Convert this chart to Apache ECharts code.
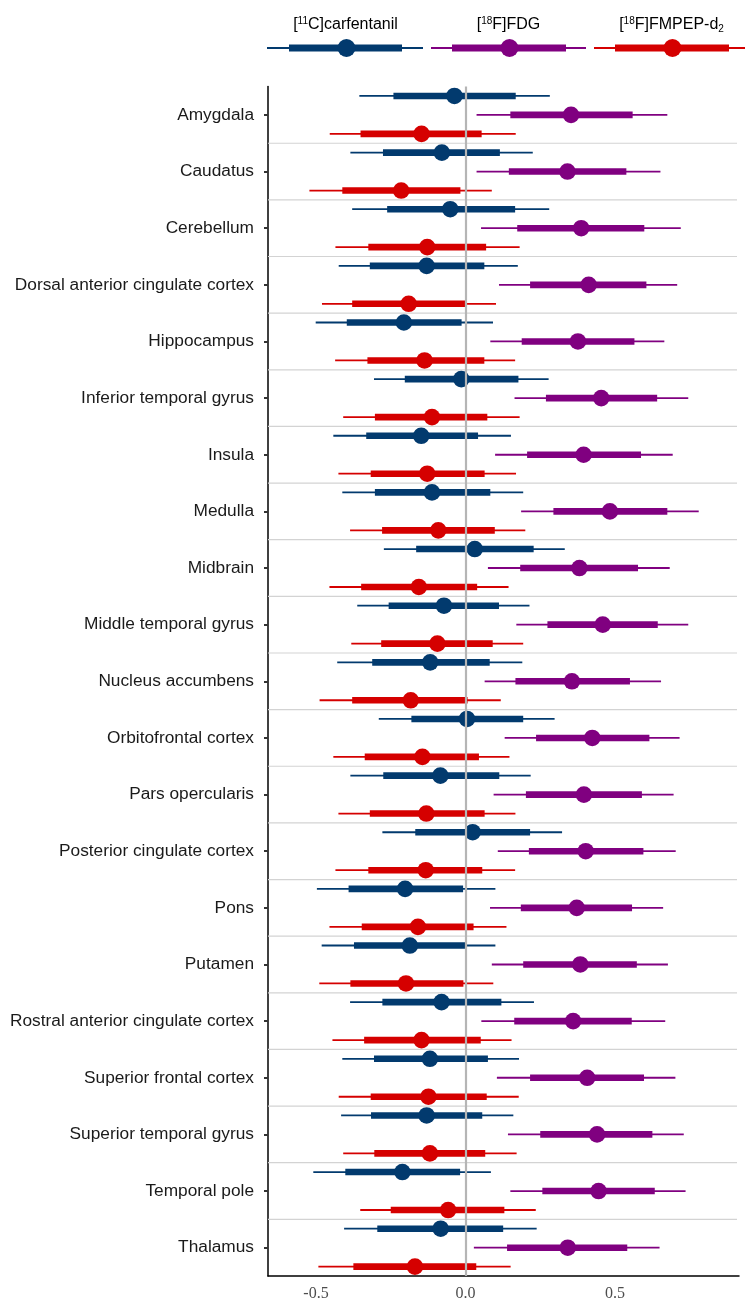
<!DOCTYPE html>
<html>
<head>
<meta charset="utf-8">
<script src="https://cdn.jsdelivr.net/npm/echarts@6/dist/echarts.min.js"></script>
<style>
html,body{margin:0;padding:0;background:#fff;}
#chart{width:745px;height:1302px;}
</style>
</head>
<body>
<div id="chart"></div>
<script>
// ---- data ----
const categories = ['Amygdala','Caudatus','Cerebellum','Dorsal anterior cingulate cortex','Hippocampus','Inferior temporal gyrus','Insula','Medulla','Midbrain','Middle temporal gyrus','Nucleus accumbens','Orbitofrontal cortex','Pars opercularis','Posterior cingulate cortex','Pons','Putamen','Rostral anterior cingulate cortex','Superior frontal cortex','Superior temporal gyrus','Temporal pole','Thalamus'];
const tickLabels = [-0.5, 0, 0.5];
// rows: [lower 95%, lower 50%, estimate, upper 50%, upper 95%]
const carfentanil = [
 [-0.355,-0.241,-0.037,0.168,0.282],
 [-0.385,-0.276,-0.079,0.115,0.225],
 [-0.379,-0.262,-0.051,0.166,0.280],
 [-0.424,-0.320,-0.130,0.063,0.175],
 [-0.501,-0.397,-0.206,-0.013,0.092],
 [-0.306,-0.203,-0.014,0.177,0.278],
 [-0.442,-0.332,-0.148,0.042,0.152],
 [-0.412,-0.303,-0.112,0.083,0.193],
 [-0.273,-0.165,0.031,0.228,0.332],
 [-0.362,-0.257,-0.072,0.112,0.214],
 [-0.429,-0.312,-0.118,0.081,0.190],
 [-0.290,-0.181,0.005,0.193,0.298],
 [-0.385,-0.275,-0.084,0.113,0.218],
 [-0.278,-0.168,0.024,0.216,0.323],
 [-0.497,-0.391,-0.202,-0.008,0.100],
 [-0.481,-0.373,-0.186,0.002,0.100],
 [-0.386,-0.278,-0.080,0.120,0.229],
 [-0.412,-0.306,-0.119,0.075,0.179],
 [-0.416,-0.316,-0.130,0.056,0.160],
 [-0.509,-0.402,-0.211,-0.018,0.085],
 [-0.406,-0.295,-0.083,0.126,0.238]
];
const fdg = [
 [0.037,0.150,0.353,0.559,0.675],
 [0.037,0.145,0.341,0.538,0.652],
 [0.052,0.173,0.387,0.598,0.720],
 [0.112,0.216,0.412,0.605,0.708],
 [0.083,0.188,0.376,0.565,0.665],
 [0.164,0.269,0.454,0.641,0.745],
 [0.099,0.206,0.395,0.587,0.693],
 [0.186,0.294,0.483,0.675,0.780],
 [0.075,0.183,0.381,0.577,0.683],
 [0.170,0.274,0.459,0.643,0.745],
 [0.064,0.167,0.356,0.550,0.654],
 [0.131,0.236,0.424,0.615,0.716],
 [0.094,0.202,0.396,0.590,0.696],
 [0.108,0.212,0.402,0.595,0.703],
 [0.082,0.185,0.372,0.557,0.661],
 [0.088,0.193,0.384,0.573,0.677],
 [0.053,0.163,0.360,0.556,0.668],
 [0.105,0.216,0.407,0.597,0.702],
 [0.142,0.250,0.440,0.625,0.730],
 [0.150,0.257,0.445,0.633,0.736],
 [0.028,0.139,0.342,0.541,0.649]
];
const fmpep = [
 [-0.454,-0.351,-0.147,0.054,0.168],
 [-0.522,-0.412,-0.215,-0.017,0.088],
 [-0.435,-0.325,-0.128,0.069,0.181],
 [-0.480,-0.379,-0.190,0.001,0.102],
 [-0.436,-0.328,-0.137,0.063,0.166],
 [-0.409,-0.303,-0.112,0.073,0.181],
 [-0.425,-0.317,-0.128,0.064,0.169],
 [-0.386,-0.279,-0.091,0.098,0.200],
 [-0.455,-0.349,-0.156,0.039,0.144],
 [-0.382,-0.282,-0.094,0.091,0.193],
 [-0.488,-0.379,-0.183,0.007,0.118],
 [-0.442,-0.337,-0.144,0.045,0.147],
 [-0.425,-0.320,-0.131,0.064,0.167],
 [-0.435,-0.325,-0.133,0.056,0.166],
 [-0.455,-0.347,-0.159,0.027,0.137],
 [-0.489,-0.385,-0.199,-0.007,0.093],
 [-0.445,-0.339,-0.147,0.051,0.154],
 [-0.424,-0.317,-0.124,0.071,0.178],
 [-0.409,-0.305,-0.119,0.066,0.171],
 [-0.352,-0.250,-0.058,0.130,0.235],
 [-0.492,-0.375,-0.169,0.036,0.151]
];

// ---- styles ----
const BLUE = '#023a6e', PURPLE = '#800080', RED = '#d50000';

function toData(rows){ return rows.map((r,i)=>[i].concat(r)); }

function makeRender(color, offsetFrac){
  return function(params, api){
    const cat = api.value(0);
    const band = api.size([0,1])[1];
    const yc = api.coord([0, cat])[1] + band*offsetFrac;
    const X = v => api.coord([v, cat])[0];
    const lo95 = X(api.value(1)), lo50 = X(api.value(2)), pt = X(api.value(3)),
          hi50 = X(api.value(4)), hi95 = X(api.value(5));
    return {type:'group', children:[
      {type:'line', shape:{x1:lo95,y1:yc,x2:hi95,y2:yc}, style:{stroke:color,lineWidth:1.8}},
      {type:'rect', shape:{x:lo50,y:yc-3.3,width:hi50-lo50,height:6.6}, style:{fill:color}},
      {type:'circle', shape:{cx:pt,cy:yc,r:8.3}, style:{fill:color}}
    ]};
  };
}

function sepRender(params, api){
  const cat = api.value(0);
  const band = api.size([0,1])[1];
  const y = api.coord([0, cat])[1] + band/2;
  const cs = params.coordSys;
  return {type:'line', shape:{x1:cs.x, y1:y, x2:cs.x+cs.width-2, y2:y},
          style:{stroke:'#d3d3d3', lineWidth:1.2}};
}

const chart = echarts.init(document.getElementById('chart'), null, {renderer:'canvas'});

function legendItem(cx, x1, x2, t1, t2, color, rich){
  return {type:'group', children:[
    {type:'text', x:cx, y:34, style:{text:rich, fill:'#000', fontSize:16, fontFamily:'Liberation Sans',
      align:'center', verticalAlign:'bottom', lineHeight:18,
      rich:{sup:{fontSize:10, lineHeight:18, verticalAlign:'top', fill:'#000', fontFamily:'Liberation Sans', padding:[0,0,0,0]},
            sub:{fontSize:10, lineHeight:12, verticalAlign:'bottom', fill:'#000', fontFamily:'Liberation Sans'}}}},
    {type:'line', shape:{x1:x1,y1:48,x2:x2,y2:48}, style:{stroke:color,lineWidth:1.8}},
    {type:'rect', shape:{x:t1,y:44.5,width:t2-t1,height:7}, style:{fill:color}},
    {type:'circle', shape:{cx:cx+1,cy:48,r:9}, style:{fill:color}}
  ]};
}

const option = {
  animation:false,
  backgroundColor:'#fff',
  grid:{left:268, top:86.6, right:6, bottom:24.3, containLabel:false},
  xAxis:{
    type:'value', min:-0.6605, max:0.9147,
    axisLine:{show:true, onZero:false, lineStyle:{color:'#000', width:1.5}},
    axisTick:{show:false},
    splitLine:{show:false},
    axisLabel:{customValues:tickLabels, formatter:v=>v.toFixed(1), color:'#4d4d4d',
      fontFamily:'"Liberation Serif", "Times New Roman", serif', fontSize:16, margin:10}
  },
  yAxis:{
    type:'category', data:categories, inverse:true,
    axisLine:{show:true, onZero:false, lineStyle:{color:'#000', width:1.5}},
    axisTick:{show:true, alignWithLabel:true, length:4, lineStyle:{color:'#333', width:2}},
    splitLine:{show:false},
    axisLabel:{color:'#1a1a1a', fontFamily:'"Liberation Sans", Arial, sans-serif', fontSize:17.3, margin:14}
  },
  graphic:[
    legendItem(345.5, 267, 423, 289, 402, BLUE, '[{sup|11}C]carfentanil'),
    legendItem(508.5, 431, 586, 452, 566, PURPLE, '[{sup|18}F]FDG'),
    legendItem(671.5, 594, 745, 615, 729, RED, '[{sup|18}F]FMPEP-d{sub|2}')
  ],
  series:[
    {type:'custom', name:'sep', renderItem:sepRender, data:categories.slice(0,-1).map((c,i)=>[i]),
     encode:{y:0}, z:1, silent:true},
    {type:'line', data:[], z:4, silent:true,
     markLine:{symbol:'none', silent:true, label:{show:false},
       lineStyle:{color:'#b5b5b5', width:2.2, type:'solid'}, data:[{xAxis:0}]}},
    {type:'custom', name:'[11C]carfentanil', renderItem:makeRender(BLUE,-0.335), data:toData(carfentanil),
     encode:{x:[1,2,3,4,5], y:0}, z:3},
    {type:'custom', name:'[18F]FDG', renderItem:makeRender(PURPLE,0), data:toData(fdg),
     encode:{x:[1,2,3,4,5], y:0}, z:3},
    {type:'custom', name:'[18F]FMPEP-d2', renderItem:makeRender(RED,0.335), data:toData(fmpep),
     encode:{x:[1,2,3,4,5], y:0}, z:3}
  ]
};
chart.setOption(option);
</script>
</body>
</html>
